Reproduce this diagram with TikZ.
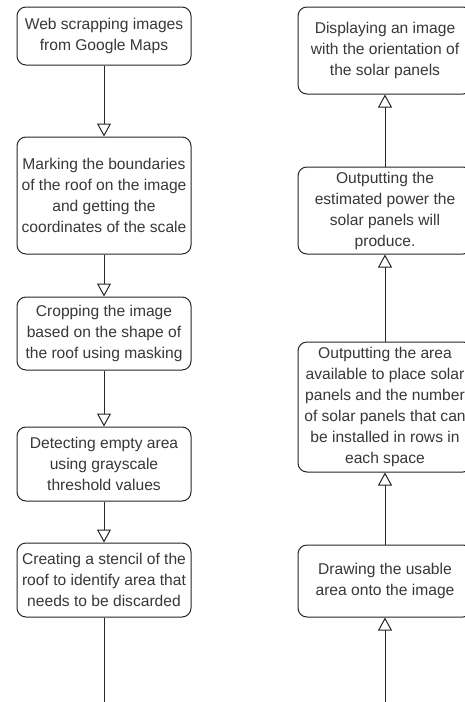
\documentclass[tikz,border=0pt]{standalone}
\usepackage{fontspec}
\setmainfont{Liberation Sans}
\usetikzlibrary{
  arrows.meta,
  positioning
}
\tikzset{
  % For the process steps.
  stepbox/.style={
    draw=black!85,
    line width=1pt,
    rounded corners=9pt,
    fill=white,
    text=black!78,
    minimum width=174pt,
    inner xsep=0pt,
    inner ysep=2pt,
    align=center,
    font=\fontsize{15.6}{21}\selectfont},
%
  % For connectors between steps.
  flow/.style={
    draw=black!85,
    line width=1pt,
    -{Triangle[open,width=14pt,length=13pt]}},
%
  % For the connector leaving the page.
  plain flow/.style={
    draw=black!85,
    line width=1pt},
}

\begin{document}
\begin{tikzpicture}[x=1pt,y=-1pt]
  \useasboundingbox (0,0) rectangle (465,702);

  % Left column, top to bottom.
  \node[stepbox, minimum height=58pt] (scrape) at (104,36)
    {Web scrapping images\\from Google Maps};
  \node[stepbox, minimum height=117pt] (mark) at (104,195.5)
    {Marking the boundaries\\of the roof on the image\\and getting the\\coordinates of the scale};
  \node[stepbox, minimum height=73pt] (crop) at (104,333.5)
    {Cropping the image\\based on the shape of\\the roof using masking};
  \node[stepbox, minimum height=74pt] (detect) at (104,464)
    {Detecting empty area\\using grayscale\\threshold values};
  \node[stepbox, minimum height=74pt] (stencil) at (104,580)
    {Creating a stencil of the\\roof to identify area that\\needs to be discarded};
  \coordinate (leftend) at (104,702);

  % Right column, bottom to top.
  \coordinate (rightend) at (385,702);
  \node[stepbox, minimum height=72pt] (usable) at (385,581)
    {Drawing the usable\\area onto the image};
  \node[stepbox, minimum height=130pt] (area) at (385,407)
    {Outputting the area\\available to place solar\\panels and the number\\of solar panels that can\\be installed in rows in\\each space};
  \node[stepbox, minimum height=87pt] (power) at (385,210.5)
    {Outputting the\\estimated power the\\solar panels will\\produce.};
  \node[stepbox, minimum height=87pt] (display) at (385,50.5)
    {Displaying an image\\with the orientation of\\the solar panels};

  \draw[flow] (scrape) -- (mark);
  \draw[flow] (mark) -- (crop);
  \draw[flow] (crop) -- (detect);
  \draw[flow] (detect) -- (stencil);
  \draw[plain flow] (stencil) -- (leftend);

  \draw[flow] (rightend) -- (usable);
  \draw[flow] (usable) -- (area);
  \draw[flow] (area) -- (power);
  \draw[flow] (power) -- (display);
\end{tikzpicture}
\end{document}
